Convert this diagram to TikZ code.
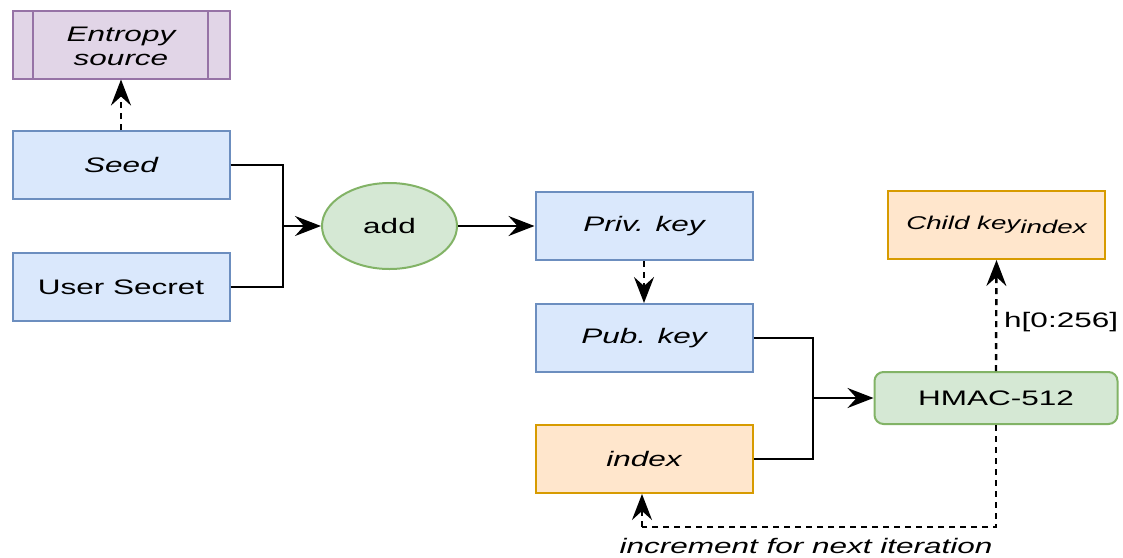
\documentclass[tikz,border=0pt]{standalone}
\usepackage{fontspec}
\setmainfont{Liberation Sans}[FakeStretch=1.5]
\usetikzlibrary{arrows.meta,shapes.geometric}
\definecolor{bfill}{HTML}{DAE8FC}\definecolor{bdraw}{HTML}{6C8EBF}
\definecolor{gfill}{HTML}{D5E8D4}\definecolor{gdraw}{HTML}{82B366}
\definecolor{ofill}{HTML}{FFE6CC}\definecolor{odraw}{HTML}{D79B00}
\definecolor{pfill}{HTML}{E1D5E7}\definecolor{pdraw}{HTML}{9673A6}
\tikzset{
  box/.style={rectangle, minimum width=217pt, minimum height=68pt, line width=2pt, inner sep=0pt, font=\fontsize{21}{24}\selectfont},
  bluebox/.style={box, fill=bfill, draw=bdraw},
  orangebox/.style={box, fill=ofill, draw=odraw},
  conn/.style={line width=2.4pt, -{Stealth[length=26pt,width=20pt,inset=9pt]}},
  dconn/.style={conn, dash pattern=on 6pt off 5pt},
  dline/.style={line width=2.4pt, dash pattern=on 6pt off 5pt},
  pline/.style={line width=2.4pt},
  lbl/.style={font=\fontsize{21}{24}\selectfont, inner sep=0pt}
}
\begin{document}
\begin{tikzpicture}[x=1pt,y=-1pt]
\useasboundingbox (0,0) rectangle (1123,557);
% Entropy source (process shape)
\node[box, fill=pfill, draw=pdraw, font=\fontsize{21}{24}\selectfont\itshape] (ent) at (121,44.5) {\raisebox{-9.7pt}[0pt][0pt]{\begin{tabular}{@{}c@{}}Entropy\\source\end{tabular}}};
\draw[pdraw, line width=2pt] (33,10) -- (33,79) (208,10) -- (208,79);
\node[bluebox, font=\fontsize{21}{24}\selectfont\itshape] (seed) at (121,165) {Seed};
\node[bluebox] (user) at (121,287) {User Secret};
\node[ellipse, minimum width=135pt, minimum height=86pt, fill=gfill, draw=gdraw, line width=2pt, inner sep=0pt, font=\fontsize{21}{24}\selectfont] (add) at (389.5,226) {add};
\node[bluebox, font=\fontsize{21}{24}\selectfont\itshape] (priv) at (644,226) {Priv. key};
\node[bluebox, font=\fontsize{21}{24}\selectfont\itshape] (pub) at (644,338) {Pub. key};
\node[orangebox, font=\fontsize{21}{24}\selectfont\itshape] (idx) at (644,459) {index};
\node[rectangle, rounded corners=9pt, minimum width=243pt, minimum height=52pt, fill=gfill, draw=gdraw, line width=2pt, inner sep=0pt, font=\fontsize{21}{24}\selectfont] (hmac) at (996,398) {HMAC-512};
\node[orangebox, font=\fontsize{18.5}{22}\selectfont\itshape] (child) at (996.5,225) {Child key\raisebox{-4pt}{index}};
% connectors
\coordinate (j1) at (283,226);
\draw[pline] (seed.east) -| (j1);
\draw[pline] (user.east) -| (j1);
\draw[conn] (j1) -- (add.west);
\draw[conn] (add.east) -- (priv.west);
\draw[dconn] (priv.south) -- (pub.north);
\draw[dconn] (seed.north) -- (ent.south);
\coordinate (j2) at (813,398);
\draw[pline] (pub.east) -| (j2);
\draw[pline] (idx.east) -| (j2);
\draw[conn] (j2) -- (hmac.west);
\draw[dconn] (hmac.north) -- (child.south);
\node[lbl, anchor=west] (hlbl) at (1004,322) {h[0:256]};
\coordinate (c1) at (996,527);
\coordinate (c2) at (642,527);
\draw[dline] (hmac.south) -- (c1) -- (c2);
\draw[dconn] (c2) -- (idx.south -| c2);
\node[lbl, font=\fontsize{21}{24}\selectfont\itshape] (inc) at (806,546) {increment for next iteration};
\end{tikzpicture}
\end{document}
